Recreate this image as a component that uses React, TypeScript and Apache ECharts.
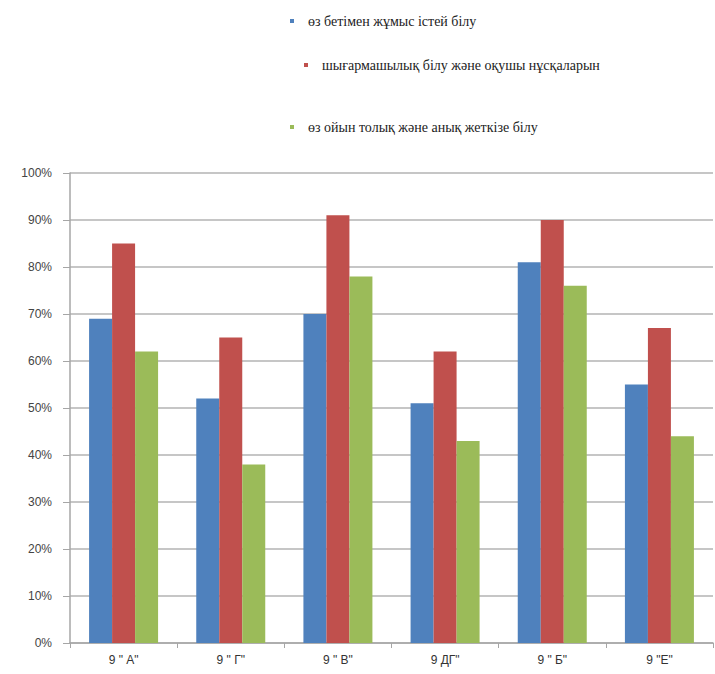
import React, { useEffect, useRef } from "react";
import * as echarts from "echarts";

const categories = ['9 " А"', '9 " Г"', '9 " В"', '9 ДГ"', '9 " Б"', '9 "Е"'];
const seriesNames = [
  "өз бетімен жұмыс істей білу",
  "шығармашылық білу және оқушы нұсқаларын",
  "өз ойын толық және анық жеткізе білу",
];
const blueValues = [69, 52, 70, 51, 81, 55];
const redValues = [85, 65, 91, 62, 90, 67];
const greenValues = [62, 38, 78, 43, 76, 44];
const colors = ["#4f81bd", "#c0504d", "#9bbb59"];

export default function App() {
  const ref = useRef<HTMLDivElement>(null);
  useEffect(() => {
    document.body.style.margin = "0";
    const chart = echarts.init(ref.current!, null, { renderer: "svg" });
    const legendText = {
      fontSize: 14,
      fontFamily: "'Liberation Serif', 'DejaVu Serif', serif",
      color: "#222",
      padding: [0, 0, 0, 9],
    };
    const legendPositions = [
      { left: 285, top: 9 },
      { left: 299, top: 53 },
      { left: 285, top: 115 },
    ];
    chart.setOption({
      animation: false,
      backgroundColor: "#ffffff",
      legend: seriesNames.map((n, i) => ({
        data: [n],
        left: legendPositions[i].left,
        top: legendPositions[i].top,
        icon: "rect",
        itemWidth: 4,
        itemHeight: 4,
        textStyle: legendText,
        selectedMode: false,
      })),
      grid: { left: 70, right: 2, top: 173, bottom: 31 },
      xAxis: {
        type: "category",
        data: categories,
        axisLine: { lineStyle: { color: "#a6a6a6", width: 1.5 } },
        axisTick: { show: true, length: 5, lineStyle: { color: "#a6a6a6" } },
        axisLabel: {
          fontSize: 12,
          color: "#333",
          fontFamily: "'Liberation Sans', Arial, sans-serif",
          margin: 11,
        },
      },
      yAxis: {
        type: "value",
        min: 0,
        max: 100,
        interval: 10,
        axisLine: { show: true, lineStyle: { color: "#a6a6a6", width: 1.5 } },
        axisTick: { show: true, length: 7, lineStyle: { color: "#a6a6a6" } },
        splitLine: { lineStyle: { color: "#b3b3b3", width: 1.5 } },
        axisLabel: {
          formatter: "{value}%",
          fontSize: 12,
          color: "#444",
          fontFamily: "'Liberation Sans', Arial, sans-serif",
          margin: 18,
        },
      },
      series: [blueValues, redValues, greenValues].map((d, i) => ({
        name: seriesNames[i],
        type: "bar",
        data: d,
        barWidth: 23,
        barGap: "0%",
        itemStyle: { color: colors[i] },
      })),
    });
    return () => chart.dispose();
  }, []);
  return <div ref={ref} style={{ width: 715, height: 674 }} />;
}
